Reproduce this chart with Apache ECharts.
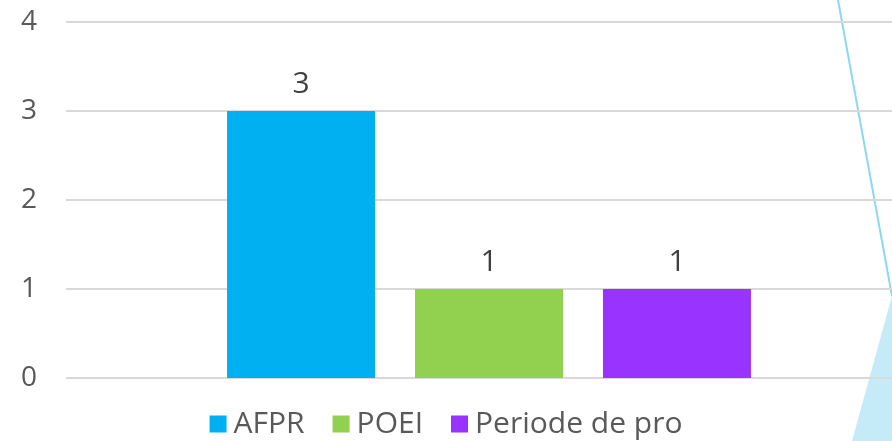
<!DOCTYPE html>
<html>
<head>
<meta charset="utf-8">
<script src="https://cdn.jsdelivr.net/npm/echarts@6/dist/echarts.min.js"></script>
<style>
html, body { margin: 0; padding: 0; background: #fff; }
#chart { width: 892px; height: 441px; }
</style>
</head>
<body>
<div id="chart"></div>
<script>
var categories = [''];
var seriesNames = ['AFPR', 'POEI', 'Periode de pro'];
var seriesValues = [[3], [1], [1]];
var seriesColors = ['#00B0F0', '#92D050', '#9933FF'];

var myChart = echarts.init(document.getElementById('chart'));

var series = seriesNames.map(function (name, i) {
    return {
        name: name,
        type: 'bar',
        barWidth: 148,
        barGap: '27%',
        data: seriesValues[i],
        itemStyle: { color: seriesColors[i] },
        label: {
            show: true,
            position: 'top',
            distance: 12,
            color: '#404040',
            fontSize: 30,
            fontFamily: 'Open Sans'
        }
    };
});

var option = {
    animation: false,
    grid: { left: 66, width: 846, top: 22, bottom: 63, outerBoundsMode: 'none' },
    legend: {
        data: seriesNames,
        top: 404,
        left: 'center',
        itemWidth: 17,
        itemHeight: 17,
        itemGap: 28,
        icon: 'rect',
        textStyle: { color: '#595959', fontSize: 30, fontFamily: 'Open Sans', padding: [0, 0, 0, 2] }
    },
    xAxis: {
        type: 'category',
        data: categories,
        axisLine: { show: false },
        axisTick: { show: false },
        axisLabel: { show: false }
    },
    yAxis: {
        type: 'value',
        min: 0,
        max: 4,
        interval: 1,
        axisLine: { show: false },
        axisTick: { show: false },
        axisLabel: { color: '#595959', fontSize: 28, fontFamily: 'Open Sans', margin: 29 },
        splitLine: { lineStyle: { color: '#D9D9D9', width: 2 } }
    },
    series: series,
    graphic: [
        {
            type: 'polyline',
            shape: { points: [[838, 0], [892, 296]] },
            style: { stroke: '#8DD8F0', lineWidth: 2 },
            silent: true
        },
        {
            type: 'polygon',
            shape: { points: [[892, 296], [852, 441], [892, 441]] },
            style: { fill: '#C5EAF8' },
            silent: true
        }
    ]
};

myChart.setOption(option);
window.addEventListener('resize', function () {
    myChart.resize();
});
</script>
</body>
</html>
